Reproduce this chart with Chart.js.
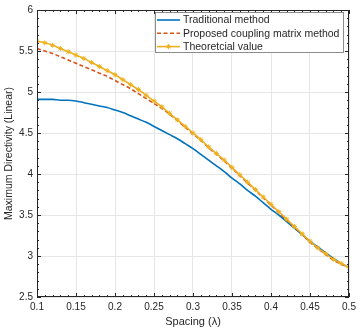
<!DOCTYPE html>
<html>
<head>
<meta charset="utf-8">
<script src="https://cdn.jsdelivr.net/npm/chart.js@4"></script>
<style>
  html, body { margin: 0; padding: 0; background: #fff; }
  #wrap { width: 360px; height: 331px; }
</style>
</head>
<body>
<div id="wrap"><canvas id="chart"></canvas></div>
<script>
// spacing in wavelengths
const spacing = [0.10, 0.11, 0.12, 0.13, 0.14, 0.15, 0.16, 0.17, 0.18, 0.19,
  0.20, 0.21, 0.22, 0.23, 0.24, 0.25, 0.26, 0.27, 0.28, 0.29,
  0.30, 0.31, 0.32, 0.33, 0.34, 0.35, 0.36, 0.37, 0.38, 0.39,
  0.40, 0.41, 0.42, 0.43, 0.44, 0.45, 0.46, 0.47, 0.48, 0.49, 0.50];

const traditional = [4.91, 4.91, 4.91, 4.90, 4.90, 4.89, 4.87, 4.85, 4.83, 4.81,
  4.78, 4.75, 4.71, 4.67, 4.63, 4.58, 4.53, 4.48, 4.43, 4.37,
  4.31, 4.24, 4.17, 4.10, 4.03, 3.95, 3.88, 3.80, 3.73, 3.65,
  3.57, 3.50, 3.42, 3.34, 3.26, 3.18, 3.11, 3.04, 2.97, 2.91, 2.86];

const proposed = [5.53, 5.50, 5.47, 5.43, 5.39, 5.35, 5.31, 5.27, 5.23, 5.19,
  5.14, 5.09, 5.04, 4.98, 4.92, 4.86, 4.80, 4.73, 4.65, 4.57,
  4.49, 4.41, 4.32, 4.24, 4.16, 4.07, 3.98, 3.89, 3.80, 3.71,
  3.62, 3.53, 3.44, 3.35, 3.26, 3.17, 3.09, 3.02, 2.95, 2.90, 2.86];

const theoretical = [5.62, 5.60, 5.57, 5.53, 5.49, 5.45, 5.41, 5.36, 5.31, 5.26,
  5.21, 5.15, 5.09, 5.03, 4.96, 4.89, 4.82, 4.74, 4.66, 4.58,
  4.50, 4.42, 4.33, 4.25, 4.17, 4.08, 3.99, 3.90, 3.81, 3.72,
  3.63, 3.54, 3.45, 3.36, 3.27, 3.18, 3.10, 3.03, 2.96, 2.91, 2.86];

const seriesNames = ["Traditional method", "Proposed coupling matrix method", "Theoretcial value"];
const colors = ["#0072BD", "#D95319", "#EDB120"];

const FONT = "'Liberation Sans', Arial, Helvetica, sans-serif";
const INK = "#262626";

function pts(arr) {
  return spacing.map((x, i) => ({ x: x, y: arr[i] }));
}

// draws the matlab-like box, inward ticks and the legend
const boxPlugin = {
  id: "boxPlugin",
  afterDraw(chart) {
    const ctx = chart.ctx;
    const a = chart.chartArea;
    const xs = chart.scales.x;
    const ys = chart.scales.y;
    ctx.save();
    ctx.strokeStyle = INK;
    ctx.lineWidth = 1;

    // ticks
    ctx.beginPath();
    for (let i = 0; i <= 40; i++) {
      const v = 0.1 + i * 0.01;
      const px = Math.round(xs.getPixelForValue(v)) + 0.5;
      const len = i % 5 === 0 ? 4 : 2;
      ctx.moveTo(px, a.bottom); ctx.lineTo(px, a.bottom - len);
      ctx.moveTo(px, a.top); ctx.lineTo(px, a.top + len);
    }
    for (let i = 0; i <= 35; i++) {
      const v = 2.5 + i * 0.1;
      const py = Math.round(ys.getPixelForValue(v)) + 0.5;
      const len = i % 5 === 0 ? 4 : 2;
      ctx.moveTo(a.left, py); ctx.lineTo(a.left + len, py);
      ctx.moveTo(a.right, py); ctx.lineTo(a.right - len, py);
    }
    ctx.stroke();
    ctx.strokeRect(Math.round(a.left) + 0.5, Math.round(a.top) + 0.5,
      Math.round(a.right - a.left) - 1, Math.round(a.bottom - a.top) - 1);

    // legend
    const lx = 155, ly = 12, lw = 189, lh = 41;
    ctx.fillStyle = "#fff";
    ctx.fillRect(lx, ly, lw, lh);
    ctx.strokeStyle = "#8c8c8c";
    ctx.strokeRect(lx + 0.5, ly + 0.5, lw - 1, lh - 1);
    ctx.font = "10.5px " + FONT;
    ctx.textBaseline = "middle";
    for (let i = 0; i < 3; i++) {
      const y = ly + 8 + i * 13.3;
      ctx.strokeStyle = colors[i];
      ctx.lineWidth = 1.6;
      ctx.setLineDash(i === 1 ? [4, 2.5] : []);
      ctx.beginPath();
      ctx.moveTo(lx + 2, y); ctx.lineTo(lx + 25, y);
      ctx.stroke();
      ctx.setLineDash([]);
      if (i === 2) {
        ctx.lineWidth = 1;
        const cx = lx + 13.5, r = 2.5;
        ctx.beginPath();
        ctx.moveTo(cx - r, y); ctx.lineTo(cx + r, y);
        ctx.moveTo(cx, y - r); ctx.lineTo(cx, y + r);
        ctx.moveTo(cx - r * 0.7, y - r * 0.7); ctx.lineTo(cx + r * 0.7, y + r * 0.7);
        ctx.moveTo(cx - r * 0.7, y + r * 0.7); ctx.lineTo(cx + r * 0.7, y - r * 0.7);
        ctx.stroke();
      }
      ctx.fillStyle = INK;
      ctx.fillText(seriesNames[i], lx + 28, y + 0.5);
    }
    ctx.restore();
  }
};

new Chart(document.getElementById("chart"), {
  type: "line",
  data: {
    datasets: [
      {
        label: seriesNames[0],
        data: pts(traditional),
        borderColor: colors[0],
        borderWidth: 1.6,
        pointRadius: 0,
        cubicInterpolationMode: "monotone",
        order: 2,
      },
      {
        label: seriesNames[1],
        data: pts(proposed),
        borderColor: colors[1],
        borderWidth: 1.6,
        borderDash: [4, 2.5],
        pointRadius: 0,
        cubicInterpolationMode: "monotone",
        order: 1,
      },
      {
        label: seriesNames[2],
        data: pts(theoretical),
        borderColor: colors[2],
        backgroundColor: colors[2],
        borderWidth: 1.6,
        pointStyle: "star",
        pointRadius: 2.5,
        pointBorderWidth: 1,
        cubicInterpolationMode: "monotone",
        order: 0,
      },
    ],
  },
  options: {
    responsive: true,
    maintainAspectRatio: false,
    animation: false,
    layout: { padding: { top: 6, right: 11, left: 0, bottom: 0 } },
    plugins: {
      legend: { display: false },
      tooltip: { enabled: false },
    },
    scales: {
      x: {
        type: "linear",
        min: 0.1,
        max: 0.5,
        afterFit(scale) { scale.height = 34; },
        border: { display: false },
        grid: { color: "#e6e6e6", drawTicks: false },
        ticks: {
          stepSize: 0.05,
          padding: 4,
          color: INK,
          font: { family: FONT, size: 10 },
          callback: (v) => String(+v.toFixed(2)),
        },
        title: {
          display: true,
          text: "Spacing (λ)",
          color: INK,
          font: { family: FONT, size: 11 },
          padding: { top: 0, bottom: 2 },
        },
      },
      y: {
        min: 2.5,
        max: 6,
        afterFit(scale) { scale.width = 37; },
        border: { display: false },
        grid: { color: "#e6e6e6", drawTicks: false },
        ticks: {
          stepSize: 0.5,
          padding: 4,
          color: INK,
          font: { family: FONT, size: 10 },
          callback: (v) => String(+v.toFixed(1)),
        },
        title: {
          display: true,
          text: "Maximum Directivity (Linear)",
          color: INK,
          font: { family: FONT, size: 10.5 },
          padding: { top: 3, bottom: 0 },
        },
      },
    },
  },
  plugins: [boxPlugin],
});
</script>
</body>
</html>
